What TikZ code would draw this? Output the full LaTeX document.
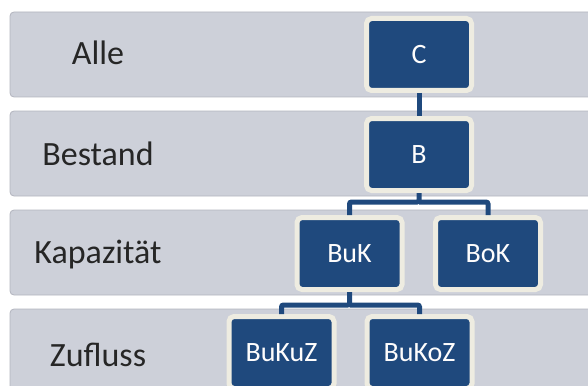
\documentclass[tikz,border=0pt]{standalone}
\usepackage{fontspec}
\setmainfont{Carlito}
\usetikzlibrary{positioning}
\definecolor{bandgray}{RGB}{205,208,217}
\definecolor{bandline}{RGB}{178,180,190}
\definecolor{boxblue}{RGB}{31,73,125}
\definecolor{boxrim}{RGB}{238,236,225}
\tikzset{
  band/.style={fill=bandgray,draw=bandline,line width=0.8pt,rounded corners=4pt},
  levellabel/.style={anchor=base,font=\fontsize{34}{36}\selectfont,text=black!85},
  unit/.style={fill=boxblue,draw=boxrim,line width=5pt,rounded corners=5pt,
               minimum width=105pt,minimum height=72pt,inner sep=0pt,
               text=white!92!boxrim,font=\fontsize{28}{30}\selectfont},
  link/.style={draw=boxblue,line width=5pt,rounded corners=2pt}
}

\begin{document}
\begin{tikzpicture}[x=1pt,y=-1pt]
    \useasboundingbox (0,0) rectangle (588,385);
    \clip (0,0) rectangle (588,385);

    % levels
    \foreach \i/\top/\base/\txt in {0/12/65/Alle,1/111/165/Bestand,2/210/263/Kapazität,3/309/366/Zufluss}
    {
        \draw[band] (10,\top) rectangle (600,\top+85);
        \node[levellabel] (lbl\i) at (98,\base) {\txt};
    }

    % hierarchy
    \node[unit] (C) at (419,54.5) {C};
    \node[unit] (B) at (419,154.5) {B};
    \node[unit] (BuK) at (349.5,253.5) {BuK};
    \node[unit] (BoK) at (488,253.5) {BoK};
    \node[unit] (BuKuZ) at (281.5,352.5) {BuKuZ};
    \node[unit] (BuKoZ) at (419.5,352.5) {BuKoZ};

    \coordinate (fork1) at (419,202);
    \coordinate (fork2) at (349.5,305);

    \draw[link] (C.south) -- (B.north);
    \draw[link] (B.south) -- (fork1) -| (BuK.north);
    \draw[link] (fork1) -| (BoK.north);
    \draw[link] (BuK.south) -- (fork2) -| (BuKuZ.north);
    \draw[link] (fork2) -| (BuKoZ.north);
\end{tikzpicture}
\end{document}
